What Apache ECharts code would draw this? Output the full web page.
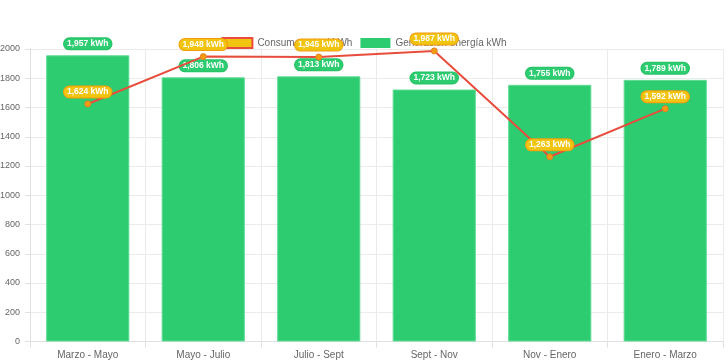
<!DOCTYPE html>
<html>
<head>
<meta charset="utf-8">
<script src="https://cdn.jsdelivr.net/npm/echarts@6/dist/echarts.min.js"></script>
<style>
html,body{margin:0;padding:0;background:#fff;}
#chart{width:728px;height:363px;}
</style>
</head>
<body>
<div id="chart"></div>
<script>
const categories = ['Marzo - Mayo', 'Mayo - Julio', 'Julio - Sept', 'Sept - Nov', 'Nov - Enero', 'Enero - Marzo'];
const consumo = [1624, 1948, 1945, 1987, 1263, 1592];
const generacion = [1957, 1806, 1813, 1723, 1755, 1789];
const yTicks = { min: 0, max: 2000, interval: 200 };
const nameConsumo = 'Consumo actual kWh';
const nameGeneracion = 'Generación energía kWh';

const font = '"Liberation Sans", Arial, Helvetica, sans-serif';
const fmt = p => Number(p.value).toLocaleString('en-US') + ' kWh';

const chart = echarts.init(document.getElementById('chart'));
chart.setOption({
  animation: false,
  textStyle: { fontFamily: font },
  legend: {
    top: 32,
    left: 'center',
    itemWidth: 30,
    itemHeight: 10,
    itemGap: 8,
    textStyle: { color: '#666', fontSize: 10, fontFamily: font },
    data: [
      { name: nameConsumo, icon: 'rect', itemStyle: { color: '#F1C40F', borderColor: '#E74C3C', borderWidth: 2 } },
      { name: nameGeneracion, icon: 'rect', itemStyle: { color: '#2ECC71', borderWidth: 0 } }
    ]
  },
  grid: { left: 30, right: 5, top: 49, bottom: 21.5, containLabel: false, outerBoundsMode: 'none' },
  xAxis: {
    type: 'category',
    data: categories,
    boundaryGap: true,
    axisLine: { show: true, lineStyle: { color: '#e0e0e0' } },
    axisTick: { show: true, length: 6, alignWithLabel: false, lineStyle: { color: '#e0e0e0' } },
    splitLine: { show: true, lineStyle: { color: '#ebebeb' } },
    axisLabel: { color: '#666', fontSize: 10, margin: 9, fontFamily: font }
  },
  yAxis: {
    type: 'value',
    min: yTicks.min, max: yTicks.max, interval: yTicks.interval,
    axisLine: { show: true, lineStyle: { color: '#e0e0e0' } },
    axisTick: { show: true, length: 5, lineStyle: { color: '#e0e0e0' } },
    splitLine: { show: true, lineStyle: { color: '#ebebeb' } },
    axisLabel: { color: '#666', fontSize: 9, margin: 10, fontFamily: font, formatter: v => String(v) }
  },
  series: [
    {
      name: nameGeneracion,
      type: 'bar',
      data: generacion,
      barWidth: '72%',
      itemStyle: { color: '#2ECC71', borderColor: '#5fdc94', borderWidth: 1 },
      label: {
        show: true, position: 'top', distance: 6, formatter: fmt,
        color: '#fff', fontSize: 8.5, fontWeight: 'bold', fontFamily: font,
        backgroundColor: '#2ECC71', borderColor: '#27c265', borderWidth: 1,
        borderRadius: 6, padding: [1, 3, 1, 3]
      },
      z: 2
    },
    {
      name: nameConsumo,
      type: 'line',
      data: consumo,
      lineStyle: { color: '#E74C3C', width: 2 },
      itemStyle: { color: '#F39C12', borderColor: '#E67E22', borderWidth: 1 },
      symbol: 'circle',
      symbolSize: 6,
      label: {
        show: true, position: 'top', distance: 3, formatter: fmt,
        color: '#fff', fontSize: 8.5, fontWeight: 'bold', fontFamily: font,
        backgroundColor: '#F1C40F', borderColor: '#F39C12', borderWidth: 1,
        borderRadius: 6, padding: [1, 3, 1, 3]
      },
      z: 10
    }
  ]
});
</script>
</body>
</html>
